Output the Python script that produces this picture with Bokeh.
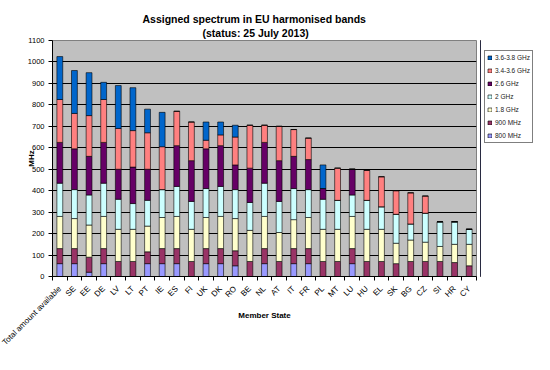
import math
import numpy as np
from bokeh.plotting import figure
from bokeh.layouts import row
from bokeh.models import (ColumnDataSource, Range1d, FixedTicker, Legend,
                          LegendItem, Title)
from bokeh.embed import file_html
from bokeh.resources import INLINE

# ---------------- data ----------------
states = ["Total amount available", "SE", "EE", "DE", "LV", "LT", "PT", "IE",
          "ES", "FI", "UK", "DK", "RO", "BE", "NL", "AT", "IT", "FR", "PL",
          "MT", "LU", "HU", "EL", "SK", "BG", "CZ", "SI", "HR", "CY"]

mhz_800 = [60, 60, 20, 60, 0, 0, 60, 60, 60, 0, 60, 60, 50, 0, 60, 0, 60, 60,
           0, 0, 60, 0, 0, 0, 0, 0, 0, 0, 0]
mhz_900 = [70, 70, 70, 70, 70, 70, 55, 70, 70, 70, 70, 70, 70, 70, 70, 70, 70,
           70, 70, 70, 70, 70, 70, 60, 70, 70, 70, 65, 50]
ghz_1_8 = [150, 140, 150, 150, 150, 150, 120, 145, 150, 150, 145, 150, 150,
           145, 150, 135, 135, 145, 150, 150, 150, 150, 150, 95, 100, 90, 70,
           85, 100]
ghz_2 = [155, 135, 140, 155, 140, 120, 120, 130, 140, 130, 135, 140, 135, 130,
         155, 145, 145, 130, 140, 135, 100, 135, 105, 135, 75, 135, 115, 105,
         70]
ghz_2_6 = [190, 190, 180, 190, 140, 170, 145, 0, 190, 190, 185, 190, 115, 160,
           190, 190, 150, 140, 50, 0, 120, 0, 0, 0, 0, 0, 0, 0, 0]
ghz_3_4 = [200, 165, 190, 200, 190, 170, 170, 200, 160, 180, 40, 50, 130, 200,
           80, 160, 125, 100, 0, 150, 0, 140, 140, 110, 145, 80, 0, 0, 0]
ghz_3_6 = [200, 200, 200, 80, 200, 200, 110, 160, 0, 0, 85, 60, 55, 0, 0, 0,
           0, 0, 110, 0, 0, 0, 0, 0, 0, 0, 0, 0, 0]

bands = ["800 MHz", "900 MHz", "1.8 GHz", "2 GHz", "2.6 GHz",
         "3.4-3.6 GHz", "3.6-3.8 GHz"]
band_values = [mhz_800, mhz_900, ghz_1_8, ghz_2, ghz_2_6, ghz_3_4, ghz_3_6]
colors = ["#9999FF", "#993366", "#FFFFCC", "#CCFFFF", "#660066",
          "#FF8080", "#0066CC"]
y_ticks = list(range(0, 1101, 100))

title_1 = "Assigned spectrum in EU harmonised bands"
title_2 = "(status: 25 July 2013)"
x_title = "Member State"
y_title = "MHz"

# ---------------- build ----------------
n = len(states)
xpos = (np.arange(n) + 0.5).tolist()
data = {"x": xpos}
for b, v in zip(bands, band_values):
    data[b] = v
source = ColumnDataSource(data)

FONT = "Liberation Sans"

p = figure(width=480, height=354, output_backend="svg", toolbar_location=None,
           x_range=Range1d(0, n), y_range=Range1d(0, 1100),
           min_border_left=52, min_border_right=4, min_border_top=40,
           min_border_bottom=78)

renderers = p.vbar_stack(bands, x="x", width=0.4, source=source,
                         fill_color=colors, line_color="black",
                         line_width=0.6)

p.background_fill_color = "#C0C0C0"
p.border_fill_color = "white"
p.outline_line_color = "#808080"

# y axis
p.yaxis.ticker = FixedTicker(ticks=y_ticks)
p.yaxis.major_tick_out = 4
p.yaxis.major_tick_in = 0
p.yaxis.minor_tick_out = 0
p.yaxis.minor_tick_in = 0
p.yaxis.major_label_standoff = 4
p.yaxis.major_label_text_font = FONT
p.yaxis.major_label_text_font_size = "7.5px"
p.yaxis.major_label_text_color = "black"
p.yaxis.axis_line_color = "black"
p.yaxis.major_tick_line_color = "black"
p.yaxis.axis_label = y_title
p.yaxis.axis_label_text_font = FONT
p.yaxis.axis_label_text_font_style = "bold"
p.yaxis.axis_label_text_font_size = "8px"
p.yaxis.axis_label_text_color = "black"
p.yaxis.axis_label_standoff = -11
p.ygrid.ticker = FixedTicker(ticks=y_ticks)
p.ygrid.grid_line_color = "black"
p.ygrid.grid_line_width = 1
p.xgrid.visible = False

# x axis: labels at bar centres, tick marks at category boundaries
p.xaxis.ticker = FixedTicker(ticks=xpos, minor_ticks=list(range(n + 1)))
p.xaxis.major_label_overrides = {float(xv): s for xv, s in zip(xpos, states)}
p.xaxis.major_label_orientation = math.pi / 4
p.xaxis.major_tick_out = 0
p.xaxis.major_tick_in = 0
p.xaxis.minor_tick_out = 4
p.xaxis.minor_tick_in = 0
p.xaxis.minor_tick_line_color = "black"
p.xaxis.major_label_standoff = 7
p.xaxis.major_label_text_font = FONT
p.xaxis.major_label_text_font_size = "8px"
p.xaxis.major_label_text_color = "black"
p.xaxis.axis_line_color = "black"
p.xaxis.axis_label = x_title
p.xaxis.axis_label_text_font = FONT
p.xaxis.axis_label_text_font_style = "bold"
p.xaxis.axis_label_text_font_size = "8px"
p.xaxis.axis_label_text_color = "black"
p.xaxis.axis_label_standoff = -42

# titles (second line first: it sits closest to the plot)
t2 = Title(text=title_2, align="left", offset=150, standoff=4,
           text_font=FONT, text_font_style="bold", text_font_size="10.5px",
           text_color="black")
t1 = Title(text=title_1, align="left", offset=90, standoff=-5,
           text_font=FONT, text_font_style="bold", text_font_size="10.5px",
           text_color="black")
p.add_layout(t2, "above")
p.add_layout(t1, "above")

# legend: a narrow companion figure to the right of the plot; its swatch
# renderers sit outside the visible range, they only feed the legend
lf = figure(width=54, height=354, output_backend="svg", toolbar_location=None,
            x_range=Range1d(0, 1), y_range=Range1d(0, 1), min_border=0)
lf.axis.visible = False
lf.grid.visible = False
lf.outline_line_color = None
lf.background_fill_color = "white"
lf.border_fill_color = "white"
swatches = [lf.vbar(x=[-5], top=[1], width=0.4, fill_color=c,
                    line_color="black", line_width=0.6) for c in colors]
items = [LegendItem(label=b, renderers=[r]) for b, r in zip(bands, swatches)][::-1]
legend = Legend(items=items, location=(4, 133), orientation="vertical",
                label_text_font=FONT, label_text_font_size="6.5px",
                label_text_color="#222222",
                glyph_width=5, glyph_height=5, label_height=9,
                label_standoff=3, spacing=4, padding=2, margin=0,
                border_line_color="black", border_line_width=1,
                background_fill_color="white", background_fill_alpha=1)
lf.add_layout(legend)

layout = row(p, lf, spacing=0)
open("out.html", "w").write(file_html(layout, INLINE))
